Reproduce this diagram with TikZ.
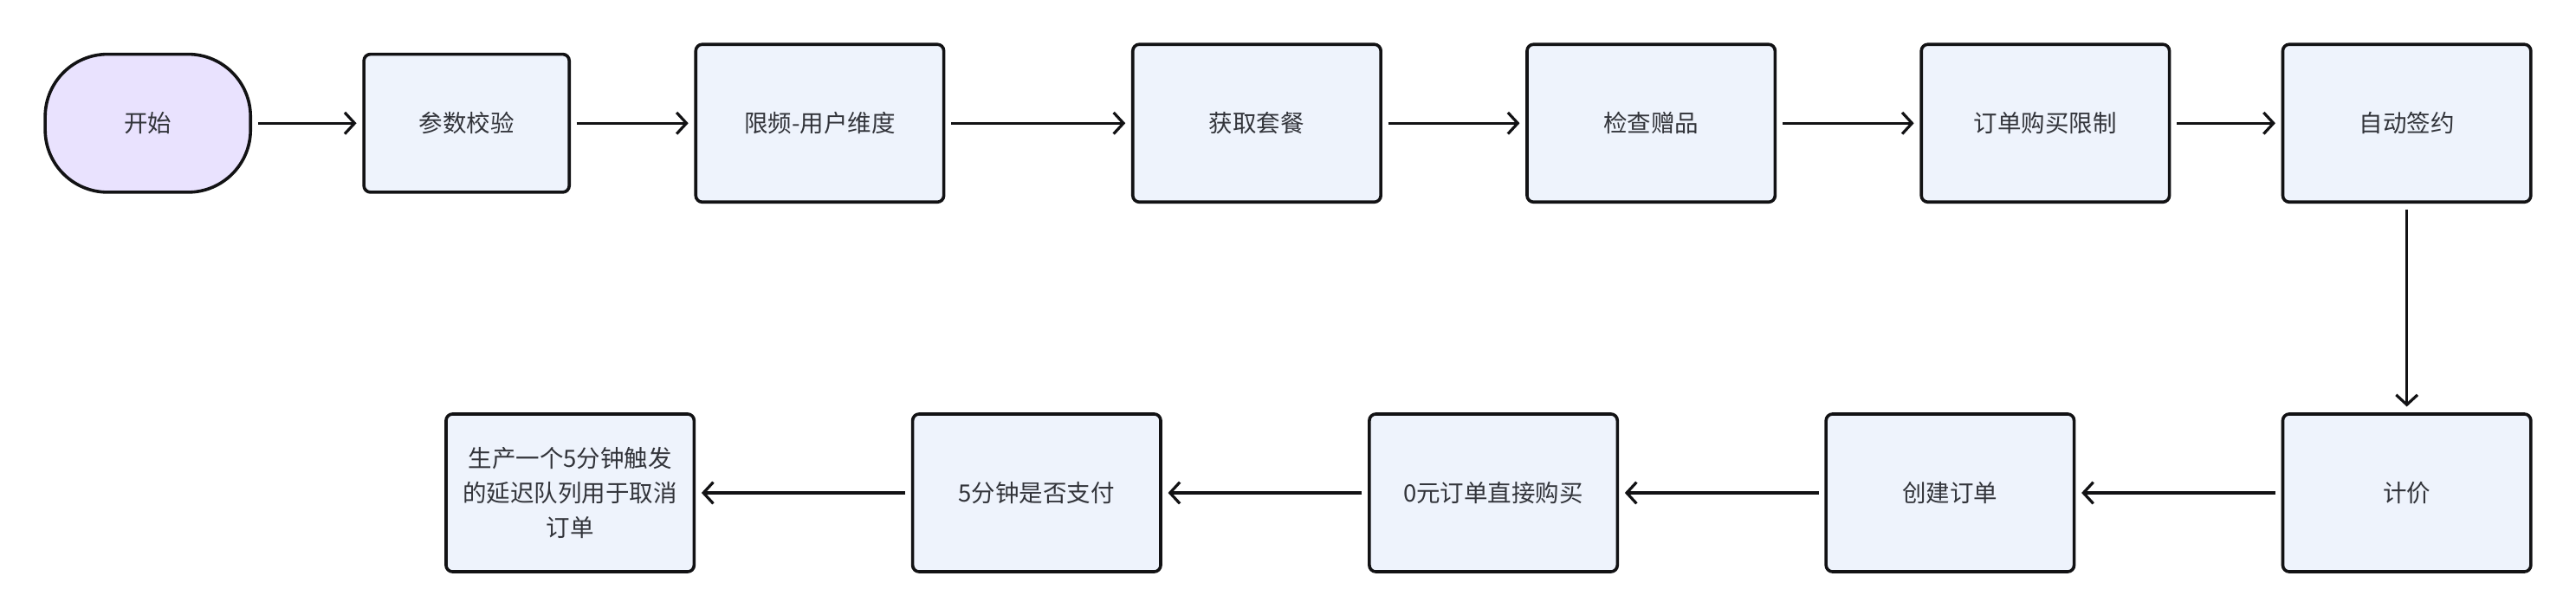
\documentclass[tikz,border=0pt]{standalone}
\usepackage{fontspec}
\setmainfont{Noto Sans CJK SC}
\usepackage{tikz}
\usetikzlibrary{arrows.meta,positioning}
\definecolor{flowink}{RGB}{18,18,20}
\definecolor{flowtext}{RGB}{50,52,58}
\definecolor{flowfill}{RGB}{238,243,252}
\definecolor{startfill}{RGB}{233,226,254}
\newcommand{\flowfont}{\fontsize{14.5pt}{21pt}\selectfont}
\tikzset{
  startbox/.style={draw=flowink, line width=1.9pt, rounded corners=38pt, fill=startfill,
    minimum width=125pt, minimum height=84pt, inner sep=0pt, outer sep=0pt, text=flowtext, font=\flowfont},
  smallblock/.style={draw=flowink, line width=1.9pt, rounded corners=4pt, fill=flowfill,
    minimum width=125pt, minimum height=84pt, align=center, inner sep=0pt, outer sep=0pt, text=flowtext, font=\flowfont},
  block/.style={draw=flowink, line width=1.9pt, rounded corners=4pt, fill=flowfill,
    minimum width=151pt, minimum height=96pt, align=center, inner sep=0pt, outer sep=0pt, text=flowtext, font=\flowfont},
  flow/.style={-{Straight Barb[length=6pt,width=13pt]}, line width=1.7pt, draw=flowink,
    shorten <=4.5pt, shorten >=4.5pt}
}

\begin{document}
\begin{tikzpicture}[x=1pt, y=-1pt]
      \useasboundingbox (0,0) rectangle (1568,374);
      % top row
      \node[startbox] (start) at (90,75) {开始};
      \node[smallblock, right=69pt of start] (check) {参数校验};
      \node[block, right=77pt of check] (limit) {限频-用户维度};
      \node[block, right=115pt of limit] (pkg) {获取套餐};
      \node[block, right=89pt of pkg] (gift) {检查赠品};
      \node[block, right=89pt of gift] (buylimit) {订单购买限制};
      \node[block, right=69pt of buylimit] (sign) {自动签约};
      % bottom row, right to left
      \node[block, below=129pt of sign] (price) {计价};
      \node[block, left=127pt of price] (create) {创建订单};
      \node[block, left=127pt of create] (zero) {0元订单直接购买};
      \node[block, left=127pt of zero] (pay) {5分钟是否支付};
      \node[block, left=133pt of pay] (delay) {生产一个5分钟触发\\的延迟队列用于取消\\订单};
      \draw[flow] (start) -- (check);
      \draw[flow] (check) -- (limit);
      \draw[flow] (limit) -- (pkg);
      \draw[flow] (pkg) -- (gift);
      \draw[flow] (gift) -- (buylimit);
      \draw[flow] (buylimit) -- (sign);
      \draw[flow] (sign) -- (price);
      \draw[flow] (price) -- (create);
      \draw[flow] (create) -- (zero);
      \draw[flow] (zero) -- (pay);
      \draw[flow] (pay) -- (delay);
    \end{tikzpicture}
\end{document}
